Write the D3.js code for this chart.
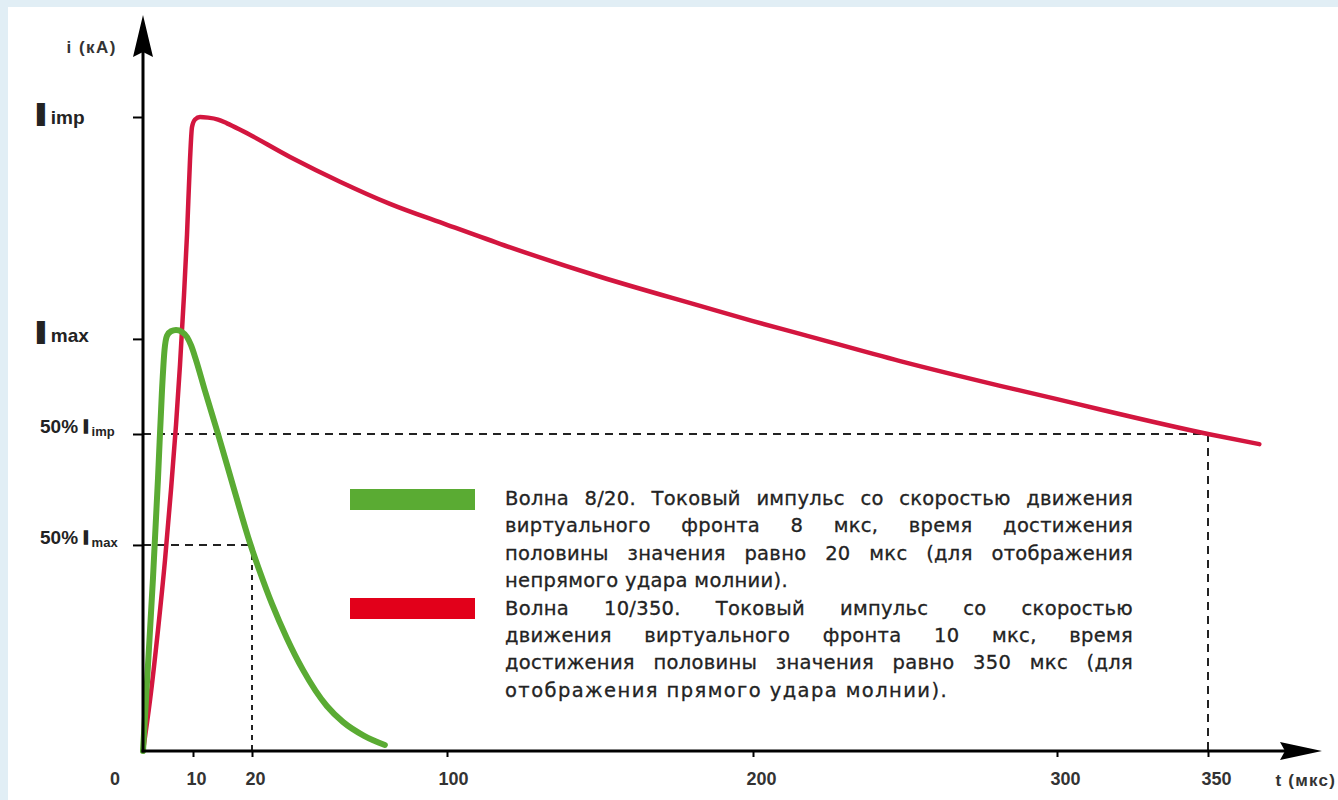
<!DOCTYPE html>
<html>
<head>
<meta charset="utf-8">
<script src="https://cdn.jsdelivr.net/npm/d3@7"></script>
<style>
  body { margin: 0; background: #ffffff; }
  svg { display: block; }
  text { font-family: "Liberation Sans", Arial, sans-serif; }
</style>
</head>
<body>
<div id="chart"></div>
<script>
// time in мкс, current as a share of Iimp
var wave820T = [0, 1, 2, 3, 3.8, 4.3, 4.8, 5.6, 6.6, 7.8, 8.8, 9.6, 10.5, 12.0, 14.24, 16.95, 19.66, 23.3, 28.2, 34.3, 40.9, 50.7, 57.3, 66, 74.5];
var wave820I = [0, 0.136, 0.273, 0.43, 0.569, 0.632, 0.655, 0.662, 0.664, 0.661, 0.653, 0.640, 0.617, 0.569, 0.50, 0.413, 0.328, 0.282, 0.232, 0.178, 0.128, 0.071, 0.046, 0.024, 0.0095];

var wave10350T = [0, 1.4, 3.0, 4.4, 5.6, 6.6, 7.4, 8.2, 8.8, 9.4, 9.8, 10.34, 11.19, 12.54, 14.24, 15.76, 18, 35.6, 56.1, 76.6, 100, 117.3, 150, 182.7, 200, 215.5, 248.4, 281.3, 300, 314, 350, 367];
var wave10350I = [0, 0.080, 0.191, 0.301, 0.412, 0.514, 0.609, 0.719, 0.814, 0.932, 0.984, 0.996, 1.0, 0.999, 0.996, 0.990, 0.980, 0.937, 0.898, 0.863, 0.830, 0.800, 0.748, 0.702, 0.678, 0.658, 0.615, 0.576, 0.555, 0.539, 0.5, 0.484];

// half-value guides: level (share of Iimp) and the time it is reached
var halfLevels = [0.325, 0.5];
var halfTimes = [20, 350];

var xTickValues = [10, 20, 100, 200, 300, 350];
var yTickValues = [1, 0.65, 0.5, 0.325];
var yTickMain = ["I", "I", "50% ", "50% "];
var yTickSub = ["imp", "max", "imp", "max"];

var legend820 = [
  "Волна 8/20. Токовый импульс со скоростью движения",
  "виртуального фронта 8 мкс, время достижения",
  "половины значения равно 20 мкс (для отображения",
  "непрямого удара молнии)."
];
var legend10350 = [
  "Волна 10/350. Токовый импульс со скоростью",
  "движения виртуального фронта 10 мкс, время",
  "достижения половины значения равно 350 мкс (для",
  "отображения прямого удара молнии)."
];

var svgWidth = 1338, svgHeight = 800;
var green = "#5aab33", red = "#d3163f", ink = "#232323";

var svg = d3.select("#chart").append("svg")
  .attr("width", svgWidth)
  .attr("height", svgHeight);

// frame: pale blue border, white sheet
svg.append("rect").attr("width", svgWidth).attr("height", svgHeight).attr("fill", "#e1eef5");
svg.append("rect").attr("x", 8).attr("y", 7).attr("width", svgWidth - 8).attr("height", svgHeight - 7).attr("fill", "#ffffff");

// the time axis is not uniform in the drawing -> piecewise linear scale
var x = d3.scaleLinear()
  .domain([0, 10, 20, 100, 200, 300, 350, 400])
  .range([143, 193, 252, 447, 753, 1057, 1208, 1359]);

var y = d3.scaleLinear()
  .domain([0, 1])
  .range([751, 117]);

// dashed guides
halfLevels.forEach(function (lvl, i) {
  svg.append("line")
    .attr("x1", x(0)).attr("x2", x(halfTimes[i]))
    .attr("y1", y(lvl)).attr("y2", y(lvl))
    .attr("stroke", "#222").attr("stroke-width", 2).attr("stroke-dasharray", "8,6");
  svg.append("line")
    .attr("x1", x(halfTimes[i])).attr("x2", x(halfTimes[i]))
    .attr("y1", y(lvl)).attr("y2", y(0))
    .attr("stroke", "#222").attr("stroke-width", 2).attr("stroke-dasharray", i === 0 ? "5,5" : "8,6");
});

// curves
var line = d3.line()
  .x(d => x(d[0]))
  .y(d => y(d[1]))
  .curve(d3.curveMonotoneX);

svg.append("path")
  .datum(wave10350T.map((t, i) => [t, wave10350I[i]]))
  .attr("d", line)
  .attr("fill", "none")
  .attr("stroke", red)
  .attr("stroke-width", 4.5)
  .attr("stroke-linecap", "round")
  .attr("stroke-linejoin", "round");

svg.append("path")
  .datum(wave820T.map((t, i) => [t, wave820I[i]]))
  .attr("d", line)
  .attr("fill", "none")
  .attr("stroke", green)
  .attr("stroke-width", 6)
  .attr("stroke-linecap", "round")
  .attr("stroke-linejoin", "round");

// axis lines and arrows
svg.append("line")
  .attr("x1", x(0)).attr("x2", x(0))
  .attr("y1", y(0) + 1.5).attr("y2", 50)
  .attr("stroke", "#000").attr("stroke-width", 3);
svg.append("path")
  .attr("d", `M${x(0)},15 L${x(0) + 10},57 L${x(0)},52 L${x(0) - 10},57 Z`)
  .attr("fill", "#000");

svg.append("line")
  .attr("x1", x(0) - 1.5).attr("x2", 1288)
  .attr("y1", y(0)).attr("y2", y(0))
  .attr("stroke", "#000").attr("stroke-width", 3);
svg.append("path")
  .attr("d", `M1322,${y(0)} L1280,${y(0) - 9} L1285,${y(0)} L1280,${y(0) + 9} Z`)
  .attr("fill", "#000");

// x ticks
var xAxis = svg.append("g")
  .attr("transform", `translate(0,${y(0)})`)
  .call(d3.axisBottom(x).tickValues(xTickValues).tickSize(6).tickPadding(15).tickFormat(d3.format("d")));
xAxis.select(".domain").remove();
xAxis.selectAll(".tick line").attr("stroke", "#000").attr("stroke-width", 2);
xAxis.selectAll(".tick text")
  .attr("dx", d => d >= 200 ? 8 : d >= 100 ? 6 : 3)
  .style("font-size", "18px")
  .style("font-weight", "bold")
  .style("font-family", "\"Liberation Sans\", Arial, sans-serif")
  .attr("fill", "#333");

svg.append("text")
  .attr("x", x(0) - 28).attr("y", y(0) + 34)
  .attr("text-anchor", "middle")
  .style("font-size", "18px").style("font-weight", "bold")
  .attr("fill", "#333")
  .text("0");

svg.append("text")
  .attr("x", 1336).attr("y", 786)
  .attr("text-anchor", "end")
  .style("font-size", "17px").style("font-weight", "bold")
  .style("letter-spacing", "1.2px")
  .attr("fill", "#333")
  .text("t (мкс)");

svg.append("text")
  .attr("x", 117).attr("y", 53)
  .attr("text-anchor", "end")
  .style("font-size", "17px").style("font-weight", "bold")
  .style("letter-spacing", "1.5px")
  .attr("fill", "#333")
  .text("i (кА)");

// y ticks
var yAxis = svg.append("g")
  .attr("transform", `translate(${x(0)},0)`)
  .call(d3.axisLeft(y).tickValues(yTickValues).tickSize(10).tickFormat(""));
yAxis.select(".domain").remove();
yAxis.selectAll(".tick line").attr("stroke", "#000").attr("stroke-width", 2);

// y tick labels with subscripts
yTickValues.forEach(function (v, i) {
  var big = yTickMain[i] === "I";
  var t = svg.append("text")
    .attr("x", big ? 37 : 40)
    .attr("y", y(v) + (i === 0 ? 7 : i === 1 ? 3 : -1))
    .attr("fill", ink)
    .style("font-weight", "bold");
  if (big) {
    t.append("tspan")
      .style("font-size", "28px")
      .attr("stroke", ink).attr("stroke-width", 4).attr("stroke-linejoin", "miter")
      .text("I");
    t.append("tspan")
      .attr("dx", 6)
      .style("font-size", "19px")
      .text(yTickSub[i]);
  } else {
    t.append("tspan").style("font-size", "19px").text(yTickMain[i]);
    t.append("tspan").style("font-size", "19px").attr("stroke", ink).attr("stroke-width", 1.6).text("I");
    t.append("tspan").attr("dx", 3).attr("dy", 3).style("font-size", "13px").text(yTickSub[i]);
  }
});

// legend
var legendLeft = 505, lineStep = 27.4;
// right edge of each typeset line (the original text block is justified)
var lineEnds820 = [1133, 1133, 1133, 788];
var lineEnds10350 = [1133, 1133, 1133, 947];

svg.append("rect").attr("x", 350).attr("y", 489).attr("width", 125).attr("height", 21).attr("fill", green);
svg.append("rect").attr("x", 350).attr("y", 598).attr("width", 125).attr("height", 21).attr("fill", "#e2001a");

function drawParagraph(lines, ends, baseY) {
  lines.forEach(function (ln, i) {
    var t = svg.append("text")
      .attr("y", baseY + i * lineStep)
      .attr("fill", ink)
      .attr("stroke", ink).attr("stroke-width", 0.3)
      .style("font-family", "\"DejaVu Sans\", sans-serif")
      .style("font-size", "19.5px")
      .style("letter-spacing", "0.3px");
    var width = ends[i] - legendLeft;
    if (i === lines.length - 1) {
      // closing line: keep word gaps, fit letters to the line length
      t.attr("x", legendLeft)
        .attr("textLength", width)
        .attr("lengthAdjust", "spacing")
        .text(ln);
      return;
    }
    // justified line: spread the words across the width
    var words = ln.split(" ");
    var spans = words.map(w => t.append("tspan").text(w));
    var widths = spans.map(s => s.node().getComputedTextLength());
    var gap = (width - d3.sum(widths)) / (words.length - 1);
    var cx = legendLeft;
    spans.forEach(function (s, k) {
      s.attr("x", cx);
      cx += widths[k] + gap;
    });
  });
}

drawParagraph(legend820, lineEnds820, 505);
drawParagraph(legend10350, lineEnds10350, 505 + 4 * lineStep);
</script>
</body>
</html>
